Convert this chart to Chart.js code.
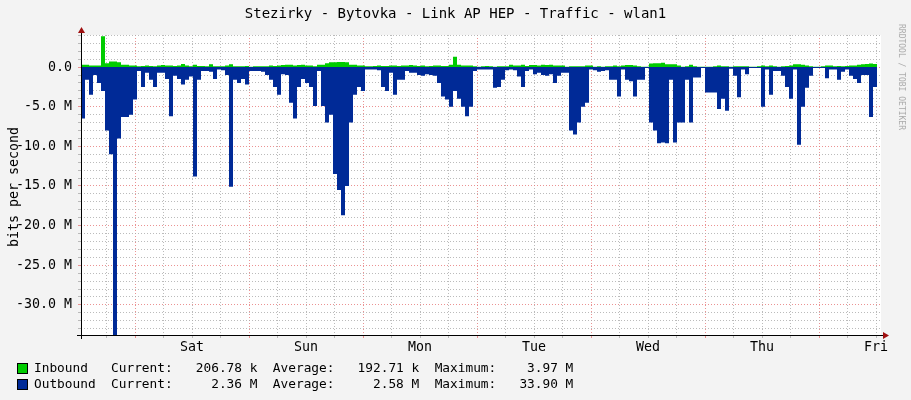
<!DOCTYPE html>
<html><head><meta charset="utf-8">
<script src="https://cdn.jsdelivr.net/npm/chart.js@4/dist/chart.umd.min.js"></script>
<style>
body{margin:0;background:#f3f3f3;}
#wrap{position:relative;width:911px;height:400px;font-family:"DejaVu Sans Mono",monospace;color:#000;}
canvas{position:absolute;left:0;top:0;}
.t{position:absolute;white-space:pre;font-size:12.8px;line-height:14px;}
.sq{position:absolute;width:9px;height:9px;border:1px solid #000;}
</style></head><body>
<div id="wrap">
<canvas id="c" width="911" height="400"></canvas>
<div class="t" style="left:0;width:911px;text-align:center;top:6px;font-size:14px;">Stezirky - Bytovka - Link AP HEP - Traffic - wlan1</div>
<div class="t" style="left:-46px;top:180px;transform:rotate(-90deg);font-size:13.3px;">bits per second</div>
<div class="t" style="left:848px;top:70px;transform:rotate(90deg);font-size:8px;color:#aaa;">RRDTOOL / TOBI OETIKER</div>
<div class="sq" style="left:17px;top:363px;background:#00cc00"></div>
<div class="sq" style="left:17px;top:379px;background:#002a97"></div>
<div class="t" style="left:34px;top:361px;">Inbound   Current:   206.78 k  Average:   192.71 k  Maximum:    3.97 M</div>
<div class="t" style="left:34px;top:377px;">Outbound  Current:     2.36 M  Average:     2.58 M  Maximum:   33.90 M</div>
</div>
<script>
const stepHours = 24/28.5;
const dayLabels = ["Sat","Sun","Mon","Tue","Wed","Thu","Fri"];
const firstMidnight = 11.37;
const outbound = [-6.5,-1.6,-3.5,-1.0,-2.0,-3.0,-8,-11,-33.9,-9,
-6.3,-6.3,-6,-4.1,-0.5,-2.5,-0.7,-1.6,-2.5,-0.7,
-0.7,-1.5,-6.2,-1.1,-1.5,-2.2,-1.6,-1.2,-13.8,-1.6,
-0.5,-0.5,-0.6,-1.5,-0.3,-0.4,-1.0,-15.1,-1.6,-2.0,
-1.5,-2.2,-0.5,-0.5,-0.5,-0.6,-1.0,-1.6,-2.5,-3.5,
-0.9,-1.0,-4.5,-6.5,-2.5,-1.5,-2.0,-2.5,-4.9,-0.5,
-4.9,-7,-6,-13.5,-15.5,-18.7,-15,-7,-3.5,-2.5,
-3.0,-0.3,-0.3,-0.3,-0.4,-2.5,-3.0,-0.7,-3.5,-1.6,
-1.6,-0.5,-0.7,-0.7,-1.0,-1.1,-0.9,-1.0,-1.1,-2.0,
-3.7,-4.1,-5,-3,-4,-5,-6.2,-5,-0.5,-0.3,
-0.3,-0.3,-0.3,-2.6,-2.5,-1.6,-0.4,-0.3,-0.4,-1.2,
-2.5,-0.5,-0.3,-0.9,-0.7,-1.0,-1.1,-0.9,-2.0,-1.1,
-0.7,-0.7,-8,-8.5,-7,-5,-4.5,-0.3,-0.4,-0.6,
-0.5,-0.4,-1.6,-1.6,-3.7,-0.3,-1.6,-1.8,-3.7,-1.6,
-1.6,-0.1,-7,-8,-9.6,-9.5,-9.6,-1.6,-9.5,-7,
-7,-1.6,-7,-1.3,-1.3,-0.1,-3.2,-3.2,-3.2,-5.3,
-4,-5.5,-0.2,-1.1,-3.8,-0.3,-0.9,-0.1,-0.1,-0.1,
-5,-0.3,-3.5,-0.5,-0.5,-1.1,-2.5,-4,-0.3,-9.8,
-5,-2.6,-1.1,-0.1,-0.1,-0.1,-1.4,-0.3,-0.3,-1.6,
-0.6,-0.3,-1.1,-1.5,-2.0,-1.0,-1.0,-6.3,-2.5,-2.4];
const inbound = [0.3,0.3,0.2,0.2,0.2,3.9,0.5,0.7,0.7,0.6,
0.3,0.3,0.2,0.2,0.1,0.15,0.2,0.15,0.1,0.2,
0.25,0.2,0.2,0.15,0.2,0.4,0.2,0.1,0.3,0.15,
0.15,0.1,0.35,0.1,0.1,0.1,0.2,0.35,0.1,0.1,
0.1,0.15,0.05,0.1,0.1,0.1,0.1,0.2,0.15,0.2,
0.25,0.3,0.3,0.2,0.25,0.3,0.2,0.2,0.1,0.3,
0.3,0.5,0.6,0.6,0.65,0.65,0.6,0.3,0.3,0.2,
0.2,0.1,0.1,0.15,0.2,0.15,0.15,0.2,0.2,0.15,
0.2,0.2,0.25,0.2,0.15,0.2,0.1,0.15,0.2,0.2,
0.15,0.15,0.3,1.3,0.3,0.2,0.2,0.2,0.1,0.05,
0.1,0.15,0.1,0.05,0.1,0.1,0.1,0.3,0.2,0.2,
0.3,0.15,0.25,0.25,0.2,0.3,0.25,0.3,0.2,0.2,
0.2,0.05,0.1,0.1,0.1,0.1,0.2,0.2,0.05,0.1,
0.05,0.1,0.1,0.2,0.1,0.2,0.25,0.25,0.2,0.1,
0.05,0.05,0.45,0.5,0.5,0.55,0.35,0.35,0.35,0.2,
0.05,0.1,0.3,0.1,0.05,0.05,0.05,0.05,0.1,0.2,
0.1,0.1,0.05,0.1,0.1,0.1,0.1,0.05,0.05,0.1,
0.2,0.1,0.2,0.1,0.05,0.1,0.15,0.2,0.35,0.35,
0.3,0.2,0.1,0.05,0.05,0.1,0.2,0.2,0.1,0.15,
0.1,0.15,0.2,0.2,0.3,0.35,0.4,0.45,0.4,0.4];
const toXY = arr => arr.map((v,i)=>({x:i*stepHours, y:v}));

const axesPlugin = {id:'axes', afterDraw(ch){
  const {ctx, chartArea:a} = ch;
  ctx.save(); ctx.strokeStyle='#000'; ctx.fillStyle='#a01010'; ctx.lineWidth=1;
  ctx.beginPath(); ctx.moveTo(a.left+0.5,a.bottom+4); ctx.lineTo(a.left+0.5,a.top-6);
  ctx.moveTo(a.left-4,a.bottom+0.5); ctx.lineTo(a.right+6,a.bottom+0.5); ctx.stroke();
  ctx.beginPath(); ctx.moveTo(a.left-3,a.top-2); ctx.lineTo(a.left+4,a.top-2); ctx.lineTo(a.left+0.5,a.top-8); ctx.fill();
  ctx.beginPath(); ctx.moveTo(a.right+2,a.bottom-3); ctx.lineTo(a.right+2,a.bottom+4); ctx.lineTo(a.right+8,a.bottom+0.5); ctx.fill();
  ctx.restore();
}};
const bgPlugin = {id:'bg', beforeDraw(ch){
  const {ctx, chartArea:a} = ch; ctx.save(); ctx.fillStyle='#fff';
  ctx.fillRect(a.left,a.top,a.right-a.left,a.bottom-a.top); ctx.restore();
}};

new Chart(document.getElementById('c'), {
  type:'line',
  data:{datasets:[
    {label:'Outbound', data:toXY(outbound), stepped:true, fill:'origin', backgroundColor:'#002a97', borderWidth:0, pointRadius:0},
    {label:'Inbound', data:toXY(inbound), stepped:true, fill:'origin', backgroundColor:'#00cc00', borderWidth:0, pointRadius:0}
  ]},
  options:{
    responsive:false, animation:false, devicePixelRatio:1,
    layout:{padding:{left:0,top:35,right:30,bottom:45}},
    plugins:{legend:{display:false}, tooltip:{enabled:false}},
    scales:{
      x:{type:'linear', min:0, max:168.42,
        afterFit(s){s.height=20;},
        afterBuildTicks(s){ const t=[]; for(let h=firstMidnight-6; h<=168.4; h+=6) t.push({value:h}); s.ticks=t; },
        ticks:{autoSkip:false, maxRotation:0, padding:2, color:'#000', font:{family:'DejaVu Sans Mono',size:13.3},
          callback(v){ const k=Math.round((v-firstMidnight)/6); if(k>=2 && (k-2)%4===0){ return dayLabels[(k-2)/4]||''; } return ''; }},
        grid:{drawTicks:true, tickLength:3, color(c){ const v=c.tick&&c.tick.value; const k=Math.round((v-firstMidnight)/6); return (k%4===0)?'rgba(230,120,120,0.8)':'rgba(170,170,170,0.8)'; }},
        border:{display:false, dash:[1,2]}
      },
      y:{min:-33.8, max:4.05,
        afterFit(s){s.width=81;},
        afterBuildTicks(s){ const t=[]; for(let v=-33; v<=4; v++) t.push({value:v}); s.ticks=t; },
        ticks:{autoSkip:false, padding:6, color:'#000', font:{family:'DejaVu Sans Mono',size:13.3},
          callback(v){ if(v%5!==0) return ''; return v===0?'0.0':v.toFixed(1)+' M'; }},
        grid:{tickLength:3, color(c){ const v=c.tick&&c.tick.value; return (v%5===0)?'rgba(230,120,120,0.8)':'rgba(170,170,170,0.8)'; }},
        border:{display:false, dash:[1,2]}
      }
    }
  },
  plugins:[bgPlugin, axesPlugin]
});
</script>
</body></html>
